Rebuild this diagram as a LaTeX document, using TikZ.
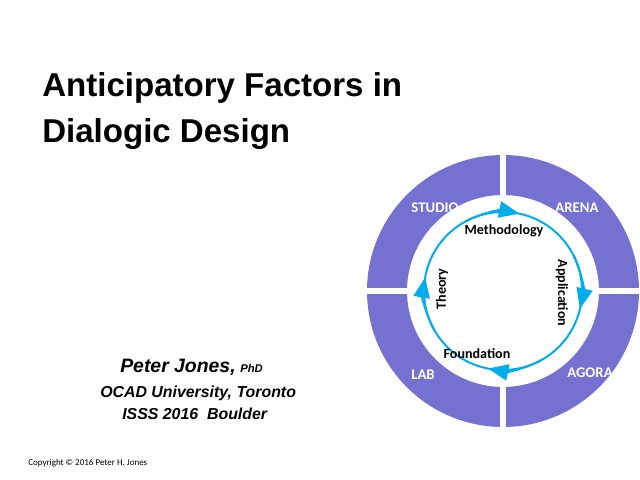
\documentclass[tikz,border=0pt]{standalone}
\usepackage{fontspec}
\setmainfont{Liberation Sans}
\newfontfamily\carlito{Carlito}
\usetikzlibrary{arrows.meta}
\definecolor{ringblue}{RGB}{117,113,208}
\definecolor{loopcyan}{RGB}{0,172,236}
\tikzset{
	quad/.style={font=\carlito\bfseries\fontsize{10.5}{12}\selectfont, text=white, inner sep=0pt},
	phase/.style={font=\carlito\bfseries\fontsize{10}{12}\selectfont, text=black, inner sep=0pt},
	gap/.style={white, line width=4.3pt},
	loopline/.style={loopcyan, line width=1.4pt},
	looptip/.style={loopline, -{Triangle[length=14.5pt,width=11.5pt]}},
	title/.style={font=\bfseries\fontsize{23.5}{28}\selectfont, anchor=base west, inner sep=0pt},
	byline/.style={font=\bfseries\itshape\fontsize{11.3}{13}\selectfont, anchor=base west, inner sep=0pt}
}
\begin{document}
\begin{tikzpicture}[x=0.025cm, y=0.025cm]
\useasboundingbox (0,0) rectangle (640,480);
\clip (0,0) rectangle (640,480);
\coordinate (C) at (503,189);

% ring of four rooms
\fill[ringblue, even odd rule] (C) circle[radius=136] (C) circle[radius=96];
\draw[gap] (C) ++(0,-140) -- ++(0,280);
\draw[gap] (C) ++(-140,0) -- ++(280,0);

% inner loop, clockwise
\draw[loopline] (C) circle[radius=79];
\foreach \a in {78, -13, -101, 170}{
	\draw[looptip] (C) ++(\a+40:79) arc[start angle=\a+40, end angle=\a, radius=79];
}

\node[quad] (studio) at (435,272) {STUDIO};
\node[quad] (arena) at (577,272) {ARENA};
\node[quad] (lab) at (423,105) {LAB};
\node[quad] (agora) at (590,107) {AGORA};

\node[phase] (method) at (504,249) {Methodology};
\node[phase, rotate=90] (theory) at (442,191) {Theory};
\node[phase, rotate=-90] (applic) at (562,187) {Application};
\node[phase] (found) at (477,126) {Foundation};

% title and byline
\node[title] (t1) at (42,383) {Anticipatory Factors in};
\node[title] (t2) at (42,337) {Dialogic Design};
\node[byline, font=\bfseries\itshape\fontsize{13.8}{16}\selectfont] (name) at (120,107) {Peter Jones,};
\node[byline, font=\bfseries\itshape\fontsize{8}{10}\selectfont] (phd) at (240,107) {PhD};
\node[byline] (inst) at (100,82) {OCAD University, Toronto};
\node[byline] (conf) at (122,60) {ISSS 2016\ \ Boulder};
\node[font=\carlito\fontsize{6.4}{8}\selectfont, anchor=base west, inner sep=0pt] (copy) at (28,14) {Copyright \textcopyright{} 2016 Peter H. Jones};
\end{tikzpicture}
\end{document}
